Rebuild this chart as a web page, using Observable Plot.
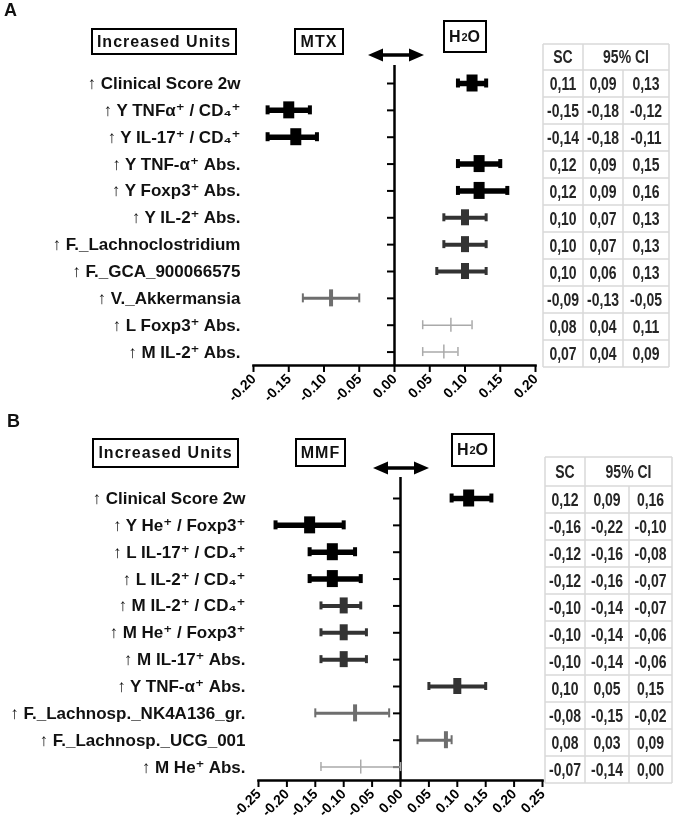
<!DOCTYPE html>
<html><head><meta charset="utf-8">
<script src="https://cdn.jsdelivr.net/npm/d3@7"></script>
<script src="https://cdn.jsdelivr.net/npm/@observablehq/plot@0.6"></script>
<style>
body{margin:0;background:#fff;font-family:"Liberation Sans",Arial,sans-serif;}
#root{position:relative;width:680px;height:831px;overflow:hidden;background:#fff;}
.panel{position:absolute;left:0;will-change:transform;transform:translateZ(0);}
.box{position:absolute;border:2px solid #000;box-sizing:border-box;display:flex;align-items:center;justify-content:center;font-weight:bold;font-size:16px;letter-spacing:1px;color:#111;white-space:nowrap;}
.box sub{font-size:11px;vertical-align:-3px;letter-spacing:0;}
.plabel{position:absolute;font-weight:bold;font-size:18px;color:#111;}
.arrow{position:absolute;}
</style></head>
<body><div id="root"></div>
<script>
// ---------- data: panel A (MTX vs H2O) ----------
const labelsA = ["↑ Clinical Score 2w","↑ Y TNFα⁺ / CD₄⁺","↑ Y IL-17⁺ / CD₄⁺","↑ Y TNF-α⁺ Abs.","↑ Y Foxp3⁺ Abs.","↑ Y IL-2⁺ Abs.","↑ F._Lachnoclostridium","↑ F._GCA_900066575","↑ V._Akkermansia","↑ L Foxp3⁺ Abs.","↑ M IL-2⁺ Abs."];
const scA   = [0.11,-0.15,-0.14,0.12,0.12,0.10,0.10,0.10,-0.09,0.08,0.07];
const loA   = [0.09,-0.18,-0.18,0.09,0.09,0.07,0.07,0.06,-0.13,0.04,0.04];
const hiA   = [0.13,-0.12,-0.11,0.15,0.16,0.13,0.13,0.13,-0.05,0.11,0.09];
const tierA = [1,1,1,1,1,2,2,2,3,4,4];
const ticksA = [-0.20,-0.15,-0.10,-0.05,0.00,0.05,0.10,0.15,0.20];

// ---------- data: panel B (MMF vs H2O) ----------
const labelsB = ["↑ Clinical Score 2w","↑ Y He⁺ / Foxp3⁺","↑ L IL-17⁺ / CD₄⁺","↑ L IL-2⁺ / CD₄⁺","↑ M IL-2⁺ / CD₄⁺","↑ M He⁺ / Foxp3⁺","↑ M IL-17⁺ Abs.","↑ Y TNF-α⁺ Abs.","↑ F._Lachnosp._NK4A136_gr.","↑ F._Lachnosp._UCG_001","↑ M He⁺ Abs."];
const scB   = [0.12,-0.16,-0.12,-0.12,-0.10,-0.10,-0.10,0.10,-0.08,0.08,-0.07];
const loB   = [0.09,-0.22,-0.16,-0.16,-0.14,-0.14,-0.14,0.05,-0.15,0.03,-0.14];
const hiB   = [0.16,-0.10,-0.08,-0.07,-0.07,-0.06,-0.06,0.15,-0.02,0.09,0.00];
const tierB = [1,1,1,1,2,2,2,2,3,3,4];
const ticksB = [-0.25,-0.20,-0.15,-0.10,-0.05,0.00,0.05,0.10,0.15,0.20,0.25];

// ---------- styles ----------
const tierStyle = {
  1:{color:"#000",    line:5.5, capW:4,   capH:9,  boxW:11, boxH:17},
  2:{color:"#333",    line:4,   capW:3,   capH:8,  boxW:8,  boxH:16},
  3:{color:"#6e6e6e", line:3,   capW:2,   capH:9,  boxW:4,  boxH:17},
  4:{color:"#aaa",    line:1.5, capW:1.5, capH:9,  boxW:1.5,boxH:14}
};
const FONT = "'Liberation Sans', 'DejaVu Sans', Arial, sans-serif";
const root = document.getElementById("root");

function rowsOf(labels, sc, lo, hi, tier){
  return labels.map((label,i)=>({label, sc:sc[i], lo:lo[i], hi:hi[i], tier:tier[i]}));
}

function forest(rows, ticks, cfg){
  const band = (cfg.bottom - cfg.firstRow) / (rows.length - 0.5);
  const marks = [
    Plot.ruleX([0], {stroke:"#000", strokeWidth:2.5}),
    Plot.ruleY(rows, {y:"label", x1:0, x2:0, insetLeft:-7, stroke:"#000", strokeWidth:2}),
    Plot.frame({anchor:"bottom", stroke:"#000", strokeWidth:2.5}),
    Plot.axisX({ticks, anchor:"bottom", tickSize:7, tickPadding:4, tickRotate:-45,
      tickFormat:d=>d.toFixed(2), fontSize:14, fontWeight:"bold", strokeWidth:2, label:null}),
    Plot.text(rows, {y:"label", text:"label", frameAnchor:"left", textAnchor:"end",
      dx:-13, fontSize:17, fontWeight:"bold", fill:"#111"})
  ];
  for (const t of [4,3,2,1]){
    const s = tierStyle[t];
    const d = rows.filter(r=>r.tier===t);
    if (!d.length) continue;
    marks.push(Plot.ruleY(d, {y:"label", x1:"lo", x2:"hi", stroke:s.color, strokeWidth:s.line}));
    const ci = (band - s.capH)/2;
    marks.push(Plot.tickX(d, {x:"lo", y:"label", stroke:s.color, strokeWidth:s.capW, insetTop:ci, insetBottom:ci}));
    marks.push(Plot.tickX(d, {x:"hi", y:"label", stroke:s.color, strokeWidth:s.capW, insetTop:ci, insetBottom:ci}));
    const bi = (band - s.boxH)/2;
    marks.push(Plot.tickX(d, {x:"sc", y:"label", stroke:s.color, strokeWidth:s.boxW, insetTop:bi, insetBottom:bi}));
  }
  return Plot.plot({
    width:680, height:cfg.height,
    marginLeft:cfg.left, marginRight:680-cfg.right, marginTop:cfg.top, marginBottom:cfg.height-cfg.bottom,
    style:{fontFamily:FONT, background:"transparent"},
    x:{domain:cfg.domain},
    y:{type:"band", domain:rows.map(r=>r.label), range:[cfg.firstRow - band/2, cfg.bottom], padding:0, round:false, axis:null},
    marks
  });
}

function addPanel(top, height, rows, ticks, cfg){
  const div = document.createElement("div");
  div.className = "panel";
  div.style.top = top + "px";
  div.appendChild(forest(rows, ticks, {...cfg, height}));
  root.appendChild(div);
}

addPanel(0, 410, rowsOf(labelsA, scA, loA, hiA, tierA), ticksA,
  {domain:[-0.2,0.2], left:253, right:535, top:65, bottom:365, firstRow:83});
addPanel(410, 421, rowsOf(labelsB, scB, loB, hiB, tierB), ticksB,
  {domain:[-0.25,0.25], left:258, right:542, top:67, bottom:370, firstRow:88});

// ---------- header boxes, arrows, panel letters ----------
function el(cls, html, x, y, w, h){
  const d = document.createElement("div");
  d.className = cls; d.innerHTML = html;
  d.style.left = x+"px"; d.style.top = y+"px";
  if (w) d.style.width = w+"px";
  if (h) d.style.height = h+"px";
  root.appendChild(d);
}
el("plabel","A",4,0);
el("plabel","B",7,411);
el("box","Increased Units",91,28,146,27);
el("box","MTX",294,28,50,27);
el("box","H<sub>2</sub>O",443,20,44,33);
el("box","Increased Units",92,438,147,30);
el("box","MMF",295,438,51,29);
el("box","H<sub>2</sub>O",451,433,44,34);
const arrowSvg = '<svg width="56" height="16" viewBox="0 0 56 16"><line x1="12" y1="8" x2="44" y2="8" stroke="#000" stroke-width="3.5"/><polygon points="0,8 15,1.5 15,14.5" fill="#000"/><polygon points="56,8 41,1.5 41,14.5" fill="#000"/></svg>';
el("arrow",arrowSvg,368,47);
el("arrow",arrowSvg,373,460);

// ---------- value tables ----------
const fmt = v => v.toFixed(2).replace(".", ",");
const svg = d3.select(root).append("svg")
  .attr("width",680).attr("height",831)
  .style("position","absolute").style("left","0px").style("top","0px");
function table(cols, headTop, headBot, rowH, sc, lo, hi){
  const g = svg.append("g");
  const n = sc.length;
  const bottom = headBot + rowH*n;
  const grid = "#d9d9d9";
  const ys = [headTop, headBot, ...d3.range(1,n+1).map(i=>headBot+rowH*i)];
  g.selectAll("line.h").data(ys).join("line")
    .attr("x1",cols[0]).attr("x2",cols[3]).attr("y1",d=>d).attr("y2",d=>d)
    .attr("stroke",grid).attr("stroke-width",1.5);
  [[cols[0],headTop],[cols[1],headTop],[cols[2],headBot],[cols[3],headTop]].forEach(([x,y0])=>{
    g.append("line").attr("x1",x).attr("x2",x).attr("y1",y0).attr("y2",bottom)
      .attr("stroke",grid).attr("stroke-width",1.5);
  });
  const tx = g.append("g").attr("font-family","'Liberation Sans',Arial,sans-serif")
    .attr("font-weight","bold").attr("fill","#262626").attr("text-anchor","middle");
  const hy = (headTop+headBot)/2;
  const put = (x,y,t,size)=>tx.append("text")
    .attr("transform",`translate(${x},${y}) scale(0.8,1)`)
    .attr("dy","0.36em").attr("font-size",size).text(t);
  put((cols[0]+cols[1])/2, hy, "SC", 17.5);
  put((cols[1]+cols[3])/2, hy, "95% CI", 17.5);
  sc.forEach((v,i)=>{
    const y = headBot + rowH*i + rowH/2;
    put((cols[0]+cols[1])/2, y, fmt(v), 17.5);
    put((cols[1]+cols[2])/2, y, fmt(lo[i]), 17.5);
    put((cols[2]+cols[3])/2, y, fmt(hi[i]), 17.5);
  });
}
table([543,583,623,669], 44, 70, 27, scA, loA, hiA);
table([545,585,629,672], 457, 486, 27, scB, loB, hiB);
</script></body></html>
